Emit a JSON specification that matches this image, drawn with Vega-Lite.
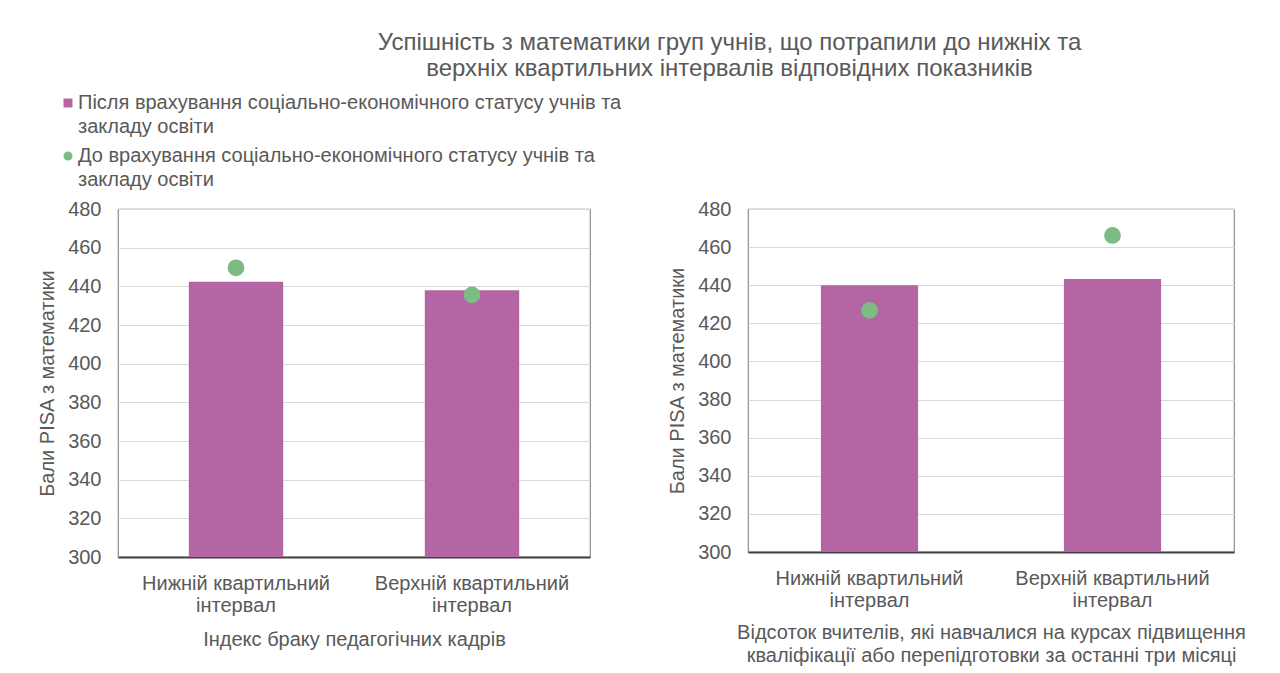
{
  "$schema": "https://vega.github.io/schema/vega-lite/v6.json",
  "background": "white",
  "padding": {"left": 37, "top": 31, "right": 20, "bottom": 5},
  "title": {
    "text": ["Успішність з математики груп учнів, що потрапили до нижніх та", "верхніх квартильних інтервалів відповідних показників"],
    "fontSize": 24,
    "font": "Liberation Sans",
    "fontWeight": "normal",
    "color": "#595959",
    "lineHeight": 26,
    "anchor": "middle",
    "dx": 88,
    "offset": 12
  },
  "datasets": {
    "d": [
      {"panel": "A", "group": "Нижній квартильний інтервал", "series": "Після врахування соціально-економічного статусу учнів та закладу освіти", "value": 442.4},
      {"panel": "A", "group": "Верхній квартильний інтервал", "series": "Після врахування соціально-економічного статусу учнів та закладу освіти", "value": 438},
      {"panel": "A", "group": "Нижній квартильний інтервал", "series": "До врахування соціально-економічного статусу учнів та закладу освіти", "value": 449.6},
      {"panel": "A", "group": "Верхній квартильний інтервал", "series": "До врахування соціально-економічного статусу учнів та закладу освіти", "value": 435.6},
      {"panel": "B", "group": "Нижній квартильний інтервал", "series": "Після врахування соціально-економічного статусу учнів та закладу освіти", "value": 440},
      {"panel": "B", "group": "Верхній квартильний інтервал", "series": "Після врахування соціально-економічного статусу учнів та закладу освіти", "value": 443.2},
      {"panel": "B", "group": "Нижній квартильний інтервал", "series": "До врахування соціально-економічного статусу учнів та закладу освіти", "value": 426.8},
      {"panel": "B", "group": "Верхній квартильний інтервал", "series": "До врахування соціально-економічного статусу учнів та закладу освіти", "value": 466.1}
    ]
  },
  "spacing": 76,
  "hconcat": [
    {
      "width": 472,
      "height": 348,
      "data": {"name": "d"},
      "transform": [{"filter": "datum.panel == 'A'"}],
      "encoding": {
        "x": {
          "field": "group", "type": "nominal",
          "sort": ["Нижній квартильний інтервал", "Верхній квартильний інтервал"],
          "scale": {"paddingInner": 0, "paddingOuter": 0},
          "axis": {"labelExpr": "[replace(datum.label, ' інтервал', ''), 'інтервал']"},
          "title": "Індекс браку педагогічних кадрів"
        },
        "y": {
          "field": "value", "type": "quantitative",
          "scale": {"domain": [300, 480], "nice": false, "zero": false},
          "axis": {"values": [300, 320, 340, 360, 380, 400, 420, 440, 460, 480]},
          "title": "Бали PISA з математики"
        }
      },
      "layer": [
        {
          "transform": [{"filter": "indexof(datum.series, 'Після') == 0"}],
          "mark": {"type": "bar", "width": {"band": 0.4}, "clip": true},
          "encoding": {
            "color": {"field": "series", "type": "nominal", "title": null,
              "scale": {"domain": ["Після врахування соціально-економічного статусу учнів та закладу освіти", "До врахування соціально-економічного статусу учнів та закладу освіти"], "range": ["#B366A3", "#7DBB84"]},
              "legend": {"labelExpr": "[replace(datum.label, ' закладу освіти', ''), 'закладу освіти']"}}
          }
        },
        {
          "transform": [{"filter": "indexof(datum.series, 'До') == 0"}],
          "mark": {"type": "point", "filled": true, "opacity": 1, "size": 280},
          "encoding": {
            "color": {"field": "series", "type": "nominal", "title": null},
            "shape": {"field": "series", "type": "nominal", "title": null,
              "scale": {"domain": ["Після врахування соціально-економічного статусу учнів та закладу освіти", "До врахування соціально-економічного статусу учнів та закладу освіти"], "range": ["square", "circle"]},
              "legend": {"labelExpr": "[replace(datum.label, ' закладу освіти', ''), 'закладу освіти']"}}
          }
        }
      ]
    },
    {
      "width": 486,
      "height": 343,
      "data": {"name": "d"},
      "transform": [{"filter": "datum.panel == 'B'"}],
      "encoding": {
        "x": {
          "field": "group", "type": "nominal",
          "sort": ["Нижній квартильний інтервал", "Верхній квартильний інтервал"],
          "scale": {"paddingInner": 0, "paddingOuter": 0},
          "axis": {"labelExpr": "[replace(datum.label, ' інтервал', ''), 'інтервал']", "titlePadding": 12},
          "title": ["Відсоток вчителів, які навчалися на курсах підвищення", "кваліфікації або перепідготовки за останні три місяці"]
        },
        "y": {
          "field": "value", "type": "quantitative",
          "scale": {"domain": [300, 480], "nice": false, "zero": false},
          "axis": {"values": [300, 320, 340, 360, 380, 400, 420, 440, 460, 480]},
          "title": "Бали PISA з математики"
        }
      },
      "layer": [
        {
          "transform": [{"filter": "indexof(datum.series, 'Після') == 0"}],
          "mark": {"type": "bar", "width": {"band": 0.4}, "clip": true},
          "encoding": {
            "color": {"field": "series", "type": "nominal", "title": null}
          }
        },
        {
          "transform": [{"filter": "indexof(datum.series, 'До') == 0"}],
          "mark": {"type": "point", "filled": true, "opacity": 1, "size": 280},
          "encoding": {
            "color": {"field": "series", "type": "nominal", "title": null},
            "shape": {"field": "series", "type": "nominal", "title": null}
          }
        }
      ]
    }
  ],
  "config": {
    "font": "Liberation Sans",
    "view": {"stroke": "#8c8c8c", "strokeWidth": 1.2},
    "style": {"guide-label": {"lineHeight": 24}},
    "axis": {
      "labelFont": "Liberation Sans", "titleFont": "Liberation Sans",
      "labelColor": "#595959", "titleColor": "#595959",
      "labelFontSize": 20, "titleFontSize": 20, "titleFontWeight": "normal",
      "gridColor": "#d9d9d9", "gridWidth": 1.2, "ticks": false, "domain": false
    },
    "axisX": {
      "grid": false, "labelAngle": 0, "domain": true, "domainColor": "#404040", "domainWidth": 2,
      "labelPadding": 16, "labelLineHeight": 22, "titlePadding": 14, "titleLineHeight": 23,
      "labelLimit": 400
    },
    "axisY": {"labelPadding": 17, "titlePadding": 10},
    "legend": {
      "orient": "none", "legendX": -60, "legendY": -116,
      "labelFont": "Liberation Sans", "labelFontSize": 20, "labelColor": "#595959",
      "labelLimit": 700, "symbolSize": 80, "rowPadding": 9, "labelOffset": 0
    }
  }
}
